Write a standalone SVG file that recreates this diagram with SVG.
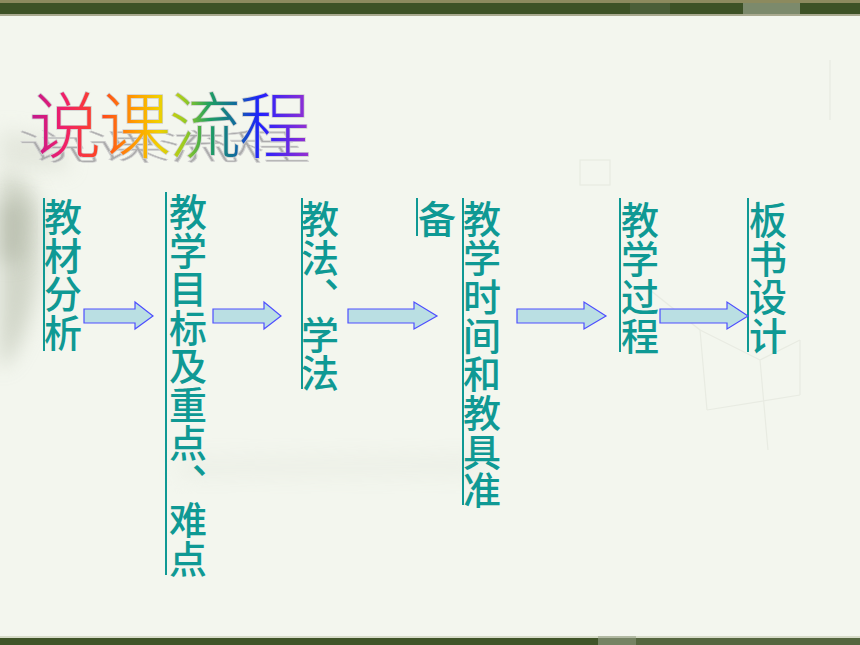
<svg xmlns="http://www.w3.org/2000/svg" xmlns:xlink="http://www.w3.org/1999/xlink" width="860" height="645" viewBox="0 0 860 645">
  <defs>
    <linearGradient id="rainbow" gradientUnits="userSpaceOnUse" x1="30" y1="0" x2="310" y2="0">
      <stop offset="0" stop-color="#c01890"/>
      <stop offset="0.12" stop-color="#f0206a"/>
      <stop offset="0.26" stop-color="#ff4a1a"/>
      <stop offset="0.38" stop-color="#ffa000"/>
      <stop offset="0.46" stop-color="#f2d000"/>
      <stop offset="0.55" stop-color="#9ccc20"/>
      <stop offset="0.64" stop-color="#20a060"/>
      <stop offset="0.73" stop-color="#106e9a"/>
      <stop offset="0.82" stop-color="#2020ff"/>
      <stop offset="1" stop-color="#9a30d0"/>
    </linearGradient>
    <filter id="blur8" x="-50%" y="-50%" width="200%" height="200%">
      <feGaussianBlur stdDeviation="10"/>
    </filter>
  </defs>
  <style>
    .col { font-family: "Noto Sans CJK SC", "Noto Sans CJK TC", sans-serif; font-size: 38px; font-weight: 500; fill: #0f9994; writing-mode: vertical-rl; letter-spacing: 0.5px; }
    .bar { stroke: #0f9994; stroke-width: 2; fill: none; }
    .arrow { fill: #badfe3; stroke: #4e4eff; stroke-width: 1.2; stroke-linejoin: miter; }
    .title { font-family: "Noto Sans CJK SC", sans-serif; font-size: 72px; font-weight: 300; letter-spacing: -2px; }
    .sketch { stroke: #e8ebe2; stroke-width: 1.2; fill: none; }
  </style>

  <!-- background -->
  <rect x="0" y="0" width="860" height="645" fill="#f3f6ee"/>
  <g id="background-wash">
    <path d="M0 175 C20 170 45 190 40 240 C38 290 30 330 10 360 L0 370 Z" fill="#b9bfae" opacity="0.6" filter="url(#blur8)"/>
    <path d="M0 200 L25 205 L22 260 L0 262 Z" fill="#a2a895" opacity="0.5" filter="url(#blur8)"/>
    <path d="M0 130 L60 140 L70 170 L0 168 Z" fill="#d5d9cc" opacity="0.5" filter="url(#blur8)"/>
    <path d="M180 455 L480 452 L480 478 L180 480 Z" fill="#e8ebe2" opacity="0.5" filter="url(#blur8)"/>
    <line class="sketch" x1="700" y1="330" x2="760" y2="360"/>
    <line class="sketch" x1="760" y1="360" x2="800" y2="340"/>
    <line class="sketch" x1="700" y1="330" x2="707" y2="410"/>
    <line class="sketch" x1="707" y1="410" x2="800" y2="395"/>
    <line class="sketch" x1="800" y1="340" x2="800" y2="395"/>
    <line class="sketch" x1="760" y1="360" x2="768" y2="450"/>
    <line class="sketch" x1="650" y1="290" x2="700" y2="330"/>
    <line class="sketch" x1="830" y1="60" x2="830" y2="120"/>
    <rect class="sketch" x="580" y="160" width="30" height="25"/>
  </g>

  <!-- top and bottom bars -->
  <g id="frame">
    <rect x="0" y="0" width="860" height="3" fill="#8c8a5e"/>
    <rect x="0" y="3" width="860" height="11" fill="#3d5226"/>
    <rect x="630" y="3" width="40" height="11" fill="#4a5e38"/>
    <rect x="743" y="3" width="57" height="11" fill="#7c8a6c"/>
    <rect x="0" y="14" width="860" height="2" fill="#a9aa90"/>
    <rect x="0" y="636" width="860" height="2" fill="#d6dbc8"/>
    <rect x="0" y="638" width="860" height="7" fill="#3f5428"/>
    <rect x="636" y="638" width="224" height="7" fill="#55663f"/>
    <rect x="598" y="636" width="38" height="9" fill="#9aa38a" opacity="0.6"/>
  </g>

  <!-- title -->
  <g id="title">
    <use xlink:href="#titleText" href="#titleText" transform="matrix(1,0,0.3,0.5,-46,84)" fill="#acacac" stroke="#d4d4d4" stroke-width="1"/>
    <g fill="url(#rainbow)" stroke="#cfcfcf" stroke-width="1.5" style="paint-order: stroke">
      <text id="titleText" class="title" x="29" y="152">说课流程</text>
    </g>
  </g>

  <!-- nodes -->
  <g id="node-jiaocaifenxi">
    <line class="bar" x1="44" y1="198" x2="44" y2="351"/>
    <text class="col" x="63" y="198">教材分析</text>
  </g>

  <g id="node-mubiao">
    <line class="bar" x1="166" y1="192" x2="166" y2="575"/>
    <text class="col" x="188" y="193">教学目标及重点、难点</text>
  </g>

  <g id="node-jiaofa">
    <line class="bar" x1="302" y1="198" x2="302" y2="389"/>
    <text class="col" x="320" y="200">教法、学法</text>
  </g>

  <g id="node-zhunbei">
    <line class="bar" x1="463" y1="198" x2="463" y2="505"/>
    <text class="col" x="482" y="200" style="letter-spacing:0.7px">教学时间和教具准</text>
    <line class="bar" x1="417" y1="198" x2="417" y2="236"/>
    <text class="col" x="437" y="200">备</text>
  </g>

  <g id="node-guocheng">
    <line class="bar" x1="620" y1="198" x2="620" y2="352"/>
    <text class="col" x="640" y="201">教学过程</text>
  </g>

  <g id="node-banshu">
    <line class="bar" x1="748" y1="198" x2="748" y2="352"/>
    <text class="col" x="768" y="201">板书设计</text>
  </g>

  <!-- connectors -->
  <g id="connectors">
    <polygon class="arrow" points="84,309 135,309 135,302 153,316 135,329 135,323 84,323"/>
    <polygon class="arrow" points="213,309 264,309 264,302 281,316 264,329 264,323 213,323"/>
    <polygon class="arrow" points="348,309 414,309 414,302 437,316 414,329 414,323 348,323"/>
    <polygon class="arrow" points="517,309 584,309 584,302 606,316 584,329 584,323 517,323"/>
    <polygon class="arrow" points="660,309 727,309 727,302 748,316 727,329 727,323 660,323"/>
  </g>
</svg>
